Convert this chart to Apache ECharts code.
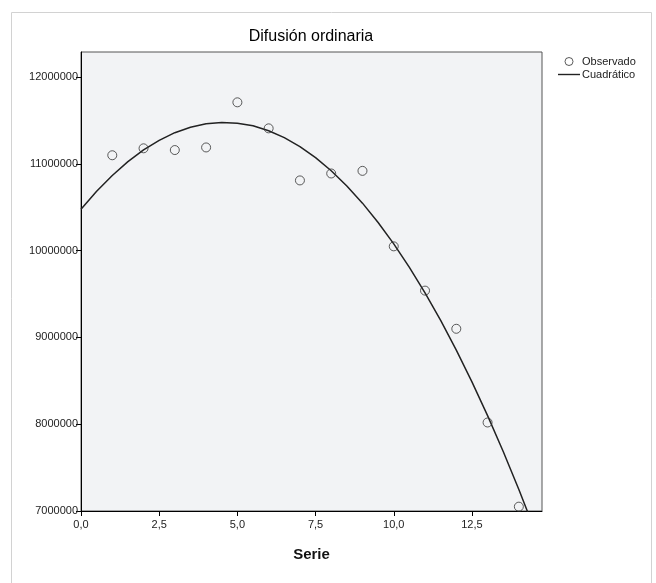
<!DOCTYPE html>
<html>
<head>
<meta charset="utf-8">
<script src="https://cdn.jsdelivr.net/npm/echarts@6/dist/echarts.min.js"></script>
<style>
html,body{margin:0;padding:0;background:#fff;}
#chart{width:656px;height:583px;}
</style>
</head>
<body>
<div id="chart"></div>
<script>
// ---- data ----
const titleText = 'Difusión ordinaria';
const xAxisName = 'Serie';
const legendNames = ['Observado', 'Cuadrático'];

const observedX = [1, 2, 3, 4, 5, 6, 7, 8, 9, 10, 11, 12, 13, 14];
const observedY = [11100000, 11180000, 11160000, 11190000, 11710000, 11410000, 10810000,
                   10890000, 10920000, 10050000, 9540000, 9100000, 8020000, 7050000];

const curveX = [0, 0.5, 1, 1.5, 2, 2.5, 3, 3.5, 4, 4.5, 5, 5.5, 6, 6.5, 7, 7.5,
                8, 8.5, 9, 9.5, 10, 10.5, 11, 11.5, 12, 12.5, 13, 13.5, 14, 14.5];
const curveY = [10478000, 10685000, 10867000, 11026000, 11161000, 11272000, 11360000,
                11423000, 11463000, 11478000, 11470000, 11439000, 11383000, 11303000,
                11200000, 11072000, 10921000, 10746000, 10548000, 10325000, 10078000,
                9808000, 9514000, 9196000, 8854000, 8488000, 8099000, 7685000, 7248000, 6787000];

const xTicks = [0, 2.5, 5, 7.5, 10, 12.5];
const yTicks = [7000000, 8000000, 9000000, 10000000, 11000000, 12000000];

// ---- chart ----
const FONT = '"Liberation Sans", Arial, sans-serif';
const chart = echarts.init(document.getElementById('chart'), null, {renderer: 'canvas'});

const option = {
  animation: false,
  backgroundColor: '#ffffff',
  textStyle: {fontFamily: FONT},
  graphic: [
    {type: 'rect', silent: true, z: -10,
     shape: {x: 11.5, y: 12.5, width: 640, height: 620},
     style: {fill: 'none', stroke: '#d2d2d2', lineWidth: 1}},
    {type: 'text', silent: true, x: 311, y: 37,
     style: {text: titleText, textAlign: 'center', textVerticalAlign: 'middle',
             font: '16px ' + FONT, fill: '#000'}}
  ],
  grid: {
    left: 81, right: 114, top: 52, bottom: 72,
    show: true, backgroundColor: '#f2f3f5', borderColor: '#555', borderWidth: 1
  },
  legend: {
    orient: 'vertical', left: 553, top: 51, itemGap: 2,
    itemWidth: 22, itemHeight: 8,
    textStyle: {fontSize: 11, color: '#222', fontFamily: FONT, padding: [0, 0, 0, -3]},
    data: [
      {name: legendNames[0], icon: 'circle',
       itemStyle: {color: 'rgba(0,0,0,0)', borderColor: '#333', borderWidth: 1}},
      {name: legendNames[1], icon: 'path://M0,0 L22,0 L22,1.4 L0,1.4 Z',
       itemStyle: {color: '#222', borderWidth: 0}}
    ]
  },
  xAxis: {
    type: 'value', min: 0, max: 14.74,
    name: xAxisName, nameLocation: 'middle', nameGap: 36,
    nameTextStyle: {fontSize: 15, fontWeight: 'bold', color: '#111', fontFamily: FONT},
    axisLine: {show: true, onZero: false, lineStyle: {color: '#000', width: 1}},
    axisTick: {show: true, inside: false, length: 5, customValues: xTicks, lineStyle: {color: '#000'}},
    axisLabel: {customValues: xTicks, fontSize: 11, color: '#222', margin: 8,
                formatter: v => v.toFixed(1).replace('.', ',')},
    splitLine: {show: false}
  },
  yAxis: {
    type: 'value', min: 7000000, max: 12290000,
    axisLine: {show: true, onZero: false, lineStyle: {color: '#000', width: 1}},
    axisTick: {show: true, inside: false, length: 5, customValues: yTicks, lineStyle: {color: '#000'}},
    axisLabel: {customValues: yTicks, fontSize: 11, color: '#222', margin: 3,
                formatter: v => String(Math.round(v))},
    splitLine: {show: false}
  },
  series: [
    {
      name: legendNames[0], type: 'scatter', symbol: 'circle', symbolSize: 9,
      data: observedX.map((x, i) => [x, observedY[i]]),
      itemStyle: {color: 'rgba(0,0,0,0)', borderColor: '#333', borderWidth: 1},
      z: 3
    },
    {
      name: legendNames[1], type: 'line', symbol: 'none', smooth: false, clip: true,
      data: curveX.map((x, i) => [x, curveY[i]]),
      lineStyle: {color: '#222', width: 1.5},
      itemStyle: {color: '#222'},
      z: 2
    }
  ]
};
chart.setOption(option);
</script>
</body>
</html>
